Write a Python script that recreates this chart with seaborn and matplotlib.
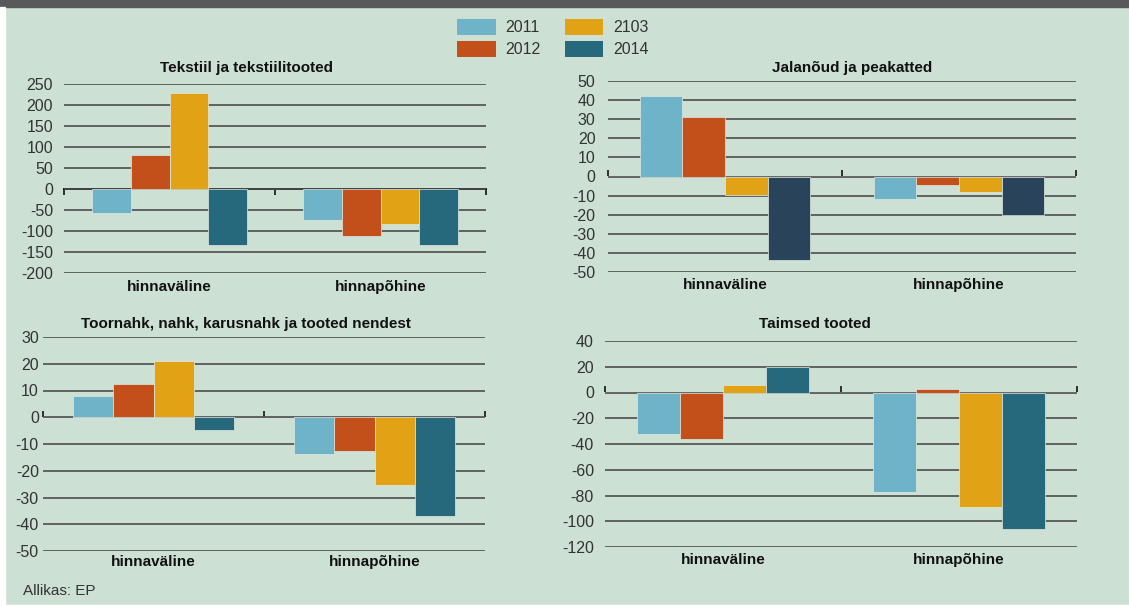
import matplotlib
matplotlib.use("Agg")
import matplotlib.pyplot as plt
import seaborn as sns
import pandas as pd
from matplotlib.patches import Rectangle, Patch

# ---------------- data ----------------
categories = ["hinnaväline", "hinnapõhine"]
years = ["2011", "2012", "2103", "2014"]

titles = ["Tekstiil ja tekstiilitooted", "Jalanõud ja peakatted",
          "Toornahk, nahk, karusnahk ja tooted nendest", "Taimsed tooted"]

# values per year: [hinnaväline, hinnapõhine]
tekstiil = {"2011": [-58, -73], "2012": [80, -113], "2103": [228, -84], "2014": [-134, -134]}
jalanoud = {"2011": [42.3, -11.7], "2012": [31.4, -4.2], "2103": [-9.6, -8.0], "2014": [-43.6, -20.0]}
toornahk = {"2011": [8.1, -13.8], "2012": [12.5, -12.7], "2103": [20.9, -25.4], "2014": [-4.6, -37.1]}
taimsed = {"2011": [-32.3, -77.4], "2012": [-36.4, 2.6], "2103": [5.9, -89.0], "2014": [20.1, -105.8]}

yticks_list = [list(range(-200, 251, 50)), list(range(-50, 51, 10)),
               list(range(-50, 31, 10)), list(range(-120, 41, 20))]

# ---------------- style ----------------
W, H = 1129, 607
BG = "#cde0d4"
colors = {"2011": "#6fb3c8", "2012": "#c34f1b", "2103": "#e1a315", "2014": "#26697d"}
navy = "#29435b"

sns.set_theme(style="white")
plt.rcParams["font.family"] = ["Liberation Sans", "DejaVu Sans"]

fig = plt.figure(figsize=(W / 100, H / 100), dpi=100, facecolor=BG)

# frame decorations
fig.patches.append(Rectangle((0, 1 - 7 / H), 1, 7 / H, transform=fig.transFigure,
                             color="#59595b", zorder=0))
fig.patches.append(Rectangle((0, 0), 5 / W, 1 - 7 / H, transform=fig.transFigure,
                             color="white", zorder=0))
fig.patches.append(Rectangle((0, 0), 1, 2 / H, transform=fig.transFigure,
                             color="white", zorder=0))

# axes boxes in pixels: x0, x1, ytop, ybot
boxes = [(64, 486, 84, 273), (608, 1076, 81, 272), (43, 485, 337, 551), (605, 1077, 341, 547)]
title_pos = [(247, 68), (852, 68), (246, 324), (815, 324)]
ypads = [8, 9, 3, 8]
xpads = [5, 4, 3, 4]
datasets = [tekstiil, jalanoud, toornahk, taimsed]

for i, (data, box) in enumerate(zip(datasets, boxes)):
    x0, x1, yt, yb = box
    ax = fig.add_axes([x0 / W, 1 - yb / H, (x1 - x0) / W, (yb - yt) / H])
    ax.set_facecolor("none")
    rows = []
    for y in years:
        for c, v in zip(categories, data[y]):
            rows.append({"cat": c, "year": y, "val": v})
    df = pd.DataFrame(rows)
    pal = dict(colors)
    if i == 1:
        pal["2014"] = navy
    sns.barplot(data=df, x="cat", y="val", hue="year", order=categories,
                hue_order=years, palette=pal, width=0.73, gap=0, ax=ax,
                legend=False, edgecolor="#dfeae3", linewidth=0.5, zorder=3,
                errorbar=None, saturation=1)
    yt_ = yticks_list[i]
    ax.set_ylim(min(yt_), max(yt_))
    ax.set_xlim(-0.5, 1.5)
    ax.set_yticks(yt_)
    ax.set_yticklabels([str(v) for v in yt_])
    ax.yaxis.grid(True, color="#4d4d4d", linewidth=1.2, zorder=1)
    ax.set_axisbelow(True)
    for s in ax.spines.values():
        s.set_visible(False)
    ax.tick_params(axis="y", length=0, pad=ypads[i], labelsize=11.5, labelcolor="#333333")
    ax.tick_params(axis="x", length=0, pad=xpads[i], labelsize=11)
    for lab in ax.get_xticklabels():
        lab.set_fontweight("bold")
        lab.set_color("#111111")
    ax.set_xlabel("")
    ax.set_ylabel("")
    # zero line with category boundary ticks
    ymin, ymax = min(yt_), max(yt_)
    frac = (0 - ymin) / (ymax - ymin)
    sec = ax.secondary_xaxis(frac)
    sec.set_xticks([-0.5, 0.5, 1.5])
    sec.tick_params(axis="x", direction="out", length=4, width=1.2, color="#111111",
                    labelbottom=False, labeltop=False)
    sec.spines["bottom"].set_color("#111111")
    sec.spines["bottom"].set_linewidth(1.4)
    sec.spines["top"].set_visible(False)
    tx, ty = title_pos[i]
    fig.text(tx / W, 1 - ty / H, titles[i], ha="center", va="center",
             fontsize=11, fontweight="bold", color="#111111")

# legend
handles = [Patch(facecolor=colors[y], edgecolor="none", label=y) for y in years]
fig.legend(handles=handles, ncol=2, loc="center", bbox_to_anchor=(553 / W, 1 - 38 / H),
           frameon=False, fontsize=11.5, handlelength=2.4, handleheight=1.2,
           columnspacing=1.5, labelspacing=0.35, handletextpad=0.63,
           labelcolor="#333333")

fig.text(23 / W, 1 - 591 / H, "Allikas: EP", ha="left", va="center",
         fontsize=11, color="#333333")

fig.savefig("out.png", dpi=100, facecolor=BG)
